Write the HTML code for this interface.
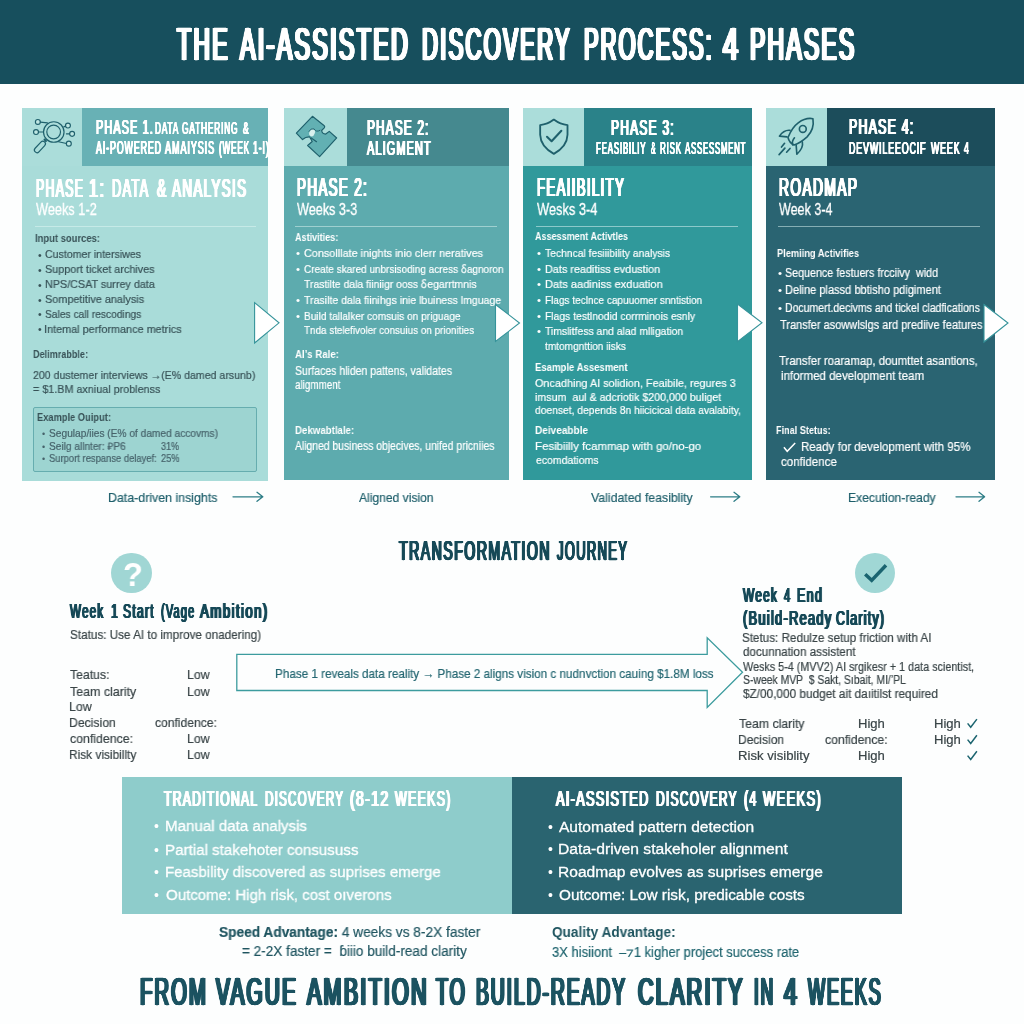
<!DOCTYPE html><html lang="en"><head><meta charset="utf-8"><title>The AI-Assisted Discovery Process: 4 Phases</title><style>
*{margin:0;padding:0;box-sizing:border-box}
html,body{width:1024px;height:1024px;overflow:hidden;background:#fdfefe}
body{font-family:"Liberation Sans",sans-serif;position:relative}
.t{will-change:transform;position:absolute;white-space:pre;line-height:1;transform-origin:0 0;display:block}
.b{position:absolute}
svg{position:absolute;left:0;top:0;overflow:visible}
</style></head><body>
<div class="b" style="left:0;top:0;width:1024px;height:84px;background:#174f5d"></div>
<!-- card 1 -->
<div class="b" style="left:22px;top:108px;width:246px;height:373px;background:#a9dcd9"></div>
<div class="b" style="left:22px;top:108px;width:60px;height:58px;background:#abddda"></div>
<div class="b" style="left:82px;top:108px;width:186px;height:58px;background:#68b1b5"></div>
<div class="b" style="left:34.6px;top:225.5px;width:221px;height:1px;background:#c6eae7"></div>
<div class="b" style="left:33px;top:407px;width:224px;height:65px;background:#9dd4d1;border:1px solid #66adaf;border-radius:2px"></div>
<!-- card 2 -->
<div class="b" style="left:284px;top:108px;width:225px;height:372px;background:#5dabae"></div>
<div class="b" style="left:284px;top:108px;width:63px;height:58px;background:#abddda"></div>
<div class="b" style="left:347px;top:108px;width:162px;height:58px;background:#45898f"></div>
<div class="b" style="left:295px;top:225.6px;width:202px;height:1px;background:#9fd0d0"></div>
<!-- card 3 -->
<div class="b" style="left:523px;top:108px;width:229px;height:372px;background:#30999b"></div>
<div class="b" style="left:523px;top:108px;width:61px;height:58px;background:#abddda"></div>
<div class="b" style="left:584px;top:108px;width:168px;height:58px;background:#2a8289"></div>
<div class="b" style="left:536px;top:225.6px;width:202px;height:1px;background:#8cc9ca"></div>
<!-- card 4 -->
<div class="b" style="left:766px;top:108px;width:229px;height:372px;background:#2a6472"></div>
<div class="b" style="left:766px;top:108px;width:61px;height:58px;background:#abddda"></div>
<div class="b" style="left:827px;top:108px;width:168px;height:58px;background:#1c4d5b"></div>
<div class="b" style="left:778px;top:225.6px;width:201.5px;height:1px;background:#86aeb4"></div>
<!-- bottom panels -->
<div class="b" style="left:122.3px;top:777.3px;width:389.7px;height:136.8px;background:#8ecccb"></div>
<div class="b" style="left:512px;top:777.3px;width:389.6px;height:136.8px;background:#2a6470"></div>
<!-- circles -->
<div class="b" style="left:111.4px;top:552.9px;width:40.5px;height:40.5px;border-radius:50%;background:#a0d6d4"></div>
<div class="b" style="left:855.2px;top:552.9px;width:40.2px;height:40.4px;border-radius:50%;background:#a0d7d5"></div>
<svg width="1024" height="1024" viewBox="0 0 1024 1024" fill="none" stroke-linecap="round" stroke-linejoin="round">
  <!-- triangles between cards -->
  <g fill="#fff" stroke="#35939a" stroke-width="1.1" stroke-linejoin="miter">
    <path d="M254.6 302.6 L279 322.8 L254.6 343 Z"/>
    <path d="M495.5 304.5 L519.5 323 L495.5 341.5 Z"/>
    <path d="M737.5 304 L762 322.8 L737.5 341.6 Z"/>
    <path d="M984 304.5 L1008 323 L984 342 Z"/>
  </g>
  <!-- label arrows -->
  <g stroke="#2d7d86" stroke-width="1.3">
    <path d="M233 496.8 H262.5 M257 492.3 L262.8 496.8 L257 501.3"/>
    <path d="M710.6 496.8 H739.5 M734 492.3 L739.8 496.8 L734 501.3"/>
    <path d="M956 496.8 H984.3 M979 492.3 L984.6 496.8 L979 501.3"/>
  </g>
  <!-- big arrow -->
  <path d="M236.8 654.4 H707.2 V637.8 L742.5 672.2 L707.2 707.5 V690.5 H236.8 Z" stroke="#3c9c9e" stroke-width="1.3" fill="#fdfefe" stroke-linejoin="miter"/>
  <!-- check in circle -->
  <path d="M865.2 574.3 L871.7 580.4 L886 565.2" stroke="#1a6470" stroke-width="3.5" stroke-linecap="butt" stroke-linejoin="miter"/>
  <path d="M783.9 447.3 L787.2 451.3 L795.2 442.9" stroke="#fff" stroke-width="1.5" stroke-linecap="butt" stroke-linejoin="miter"/>
  <!-- table checks -->
  <g stroke="#1d6570" stroke-width="1.5" stroke-linecap="butt" stroke-linejoin="miter">
    <path d="M967.6 723.4 L970.7 727.3 L976.9 719.1"/>
    <path d="M967.6 739.6 L970.7 743.5 L976.9 735.3"/>
    <path d="M967.6 755.6 L970.7 759.5 L976.9 751.3"/>
  </g>

  <g transform="translate(22,104) scale(0.06836)" stroke="#1f606c" stroke-width="17" fill="none">
    <circle cx="465" cy="410" r="150"/>
    <circle cx="463" cy="410" r="100"/>
    <rect x="-38" y="-100" width="76" height="200" rx="38" transform="translate(262,628) rotate(43)"/>
    <path d="M330 520 L350 540" stroke-width="30"/>
    <g fill="#bfe7e3"><circle cx="232" cy="263" r="36"/><circle cx="205" cy="410" r="36"/>
    <circle cx="672" cy="315" r="36"/><circle cx="733" cy="437" r="36"/><circle cx="685" cy="580" r="36"/></g>
    <path d="M268 265 L372 277 M241 410 L315 410 M612 335 L640 322 M650 437 L697 437 M535 553 L650 578"/>
  </g>
  <g transform="translate(282,104) scale(0.06836)" stroke="#1f606c" stroke-width="17" stroke-linejoin="round">
    <path d="M445 180 L618 318 Q632 333 618 350 L580 388 Q585 440 640 440 L692 400 L800 497 L550 770 L375 607 L442 548 L405 482 Q350 478 300 520 L210 425 Z" fill="#62b0b3"/>
    <ellipse cx="440" cy="420" rx="40" ry="55" transform="rotate(18 440 420)" fill="#d8f0ee" stroke="none"/>
    <path d="M428 497 L505 552" fill="none"/>
    <path d="M395 400 Q420 350 470 365 Q500 420 555 385" fill="none" stroke-width="14"/>
  </g>
  <g transform="translate(520,104) scale(0.06836)" stroke="#1f606c" stroke-width="27" fill="none">
    <path d="M495 228 Q400 300 295 308 L295 450 Q300 620 495 730 Q690 620 695 450 L695 308 Q590 300 495 228 Z"/>
    <path d="M395 480 L462 545 L605 392" stroke-width="30"/>
  </g>
  <g transform="translate(762,104) scale(0.06836)" stroke="#1f606c" stroke-width="24" fill="none">
    <path d="M745 215 Q640 195 530 275 Q440 340 380 490 Q400 570 470 600 Q560 570 660 480 Q770 370 745 215 Z"/>
    <circle cx="597" cy="365" r="50"/>
    <path d="M410 385 Q320 375 255 470 L365 480"/>
    <path d="M590 555 Q610 640 510 735 L500 605"/>
    <path d="M475 495 Q430 550 450 600"/>
    <path d="M330 575 L285 630 M335 645 L250 740 M410 650 L360 705"/>
  </g>

</svg>

<header aria-label="Title">
<span class="t" style="left:176.8px;top:22.1px;font-size:45.3px;color:#ffffff;-webkit-text-stroke:0.41px #ffffff;letter-spacing:4.56px;text-shadow:0.57px 0 #ffffff,-0.57px 0 #ffffff,1.14px 0 #ffffff,-1.14px 0 #ffffff,1.71px 0 #ffffff,-1.71px 0 #ffffff,2.28px 0 #ffffff,-2.28px 0 #ffffff,2.85px 0 #ffffff,-2.85px 0 #ffffff;transform:scaleX(0.507);">THE</span>
<span class="t" style="left:239.5px;top:22.1px;font-size:45.3px;color:#ffffff;-webkit-text-stroke:0.41px #ffffff;letter-spacing:4.56px;text-shadow:0.57px 0 #ffffff,-0.57px 0 #ffffff,1.14px 0 #ffffff,-1.14px 0 #ffffff,1.71px 0 #ffffff,-1.71px 0 #ffffff,2.28px 0 #ffffff,-2.28px 0 #ffffff,2.85px 0 #ffffff,-2.85px 0 #ffffff;transform:scaleX(0.512);">AI-ASSISTED</span>
<span class="t" style="left:422.4px;top:22.1px;font-size:45.3px;color:#ffffff;-webkit-text-stroke:0.41px #ffffff;letter-spacing:4.56px;text-shadow:0.57px 0 #ffffff,-0.57px 0 #ffffff,1.14px 0 #ffffff,-1.14px 0 #ffffff,1.71px 0 #ffffff,-1.71px 0 #ffffff,2.28px 0 #ffffff,-2.28px 0 #ffffff,2.85px 0 #ffffff,-2.85px 0 #ffffff;transform:scaleX(0.488);">DISCOVERY</span>
<span class="t" style="left:583.7px;top:22.1px;font-size:45.3px;color:#ffffff;-webkit-text-stroke:0.41px #ffffff;letter-spacing:4.56px;text-shadow:0.57px 0 #ffffff,-0.57px 0 #ffffff,1.14px 0 #ffffff,-1.14px 0 #ffffff,1.71px 0 #ffffff,-1.71px 0 #ffffff,2.28px 0 #ffffff,-2.28px 0 #ffffff,2.85px 0 #ffffff,-2.85px 0 #ffffff;transform:scaleX(0.480);">PROCESS:</span>
<span class="t" style="left:723.0px;top:22.1px;font-size:45.3px;color:#ffffff;-webkit-text-stroke:0.41px #ffffff;letter-spacing:4.56px;text-shadow:0.57px 0 #ffffff,-0.57px 0 #ffffff,1.14px 0 #ffffff,-1.14px 0 #ffffff,1.71px 0 #ffffff,-1.71px 0 #ffffff,2.28px 0 #ffffff,-2.28px 0 #ffffff,2.85px 0 #ffffff,-2.85px 0 #ffffff;transform:scaleX(0.596);">4</span>
<span class="t" style="left:750.3px;top:22.1px;font-size:45.3px;color:#ffffff;-webkit-text-stroke:0.41px #ffffff;letter-spacing:4.56px;text-shadow:0.57px 0 #ffffff,-0.57px 0 #ffffff,1.14px 0 #ffffff,-1.14px 0 #ffffff,1.71px 0 #ffffff,-1.71px 0 #ffffff,2.28px 0 #ffffff,-2.28px 0 #ffffff,2.85px 0 #ffffff,-2.85px 0 #ffffff;transform:scaleX(0.504);">PHASES</span>
</header>
<section aria-label="Phase 1">
<span class="t" style="left:95.9px;top:116.7px;font-size:20.8px;color:#ffffff;-webkit-text-stroke:0.19px #ffffff;letter-spacing:2.1px;text-shadow:0.66px 0 #ffffff,-0.66px 0 #ffffff,1.31px 0 #ffffff,-1.31px 0 #ffffff;transform:scaleX(0.524);">PHASE 1.</span>
<span class="t" style="left:155.3px;top:119.7px;font-size:16.4px;color:#ffffff;-webkit-text-stroke:0.15px #ffffff;letter-spacing:1.65px;text-shadow:0.52px 0 #ffffff,-0.52px 0 #ffffff,1.03px 0 #ffffff,-1.03px 0 #ffffff;transform:scaleX(0.503);">DATA</span>
<span class="t" style="left:182.3px;top:119.7px;font-size:16.4px;color:#ffffff;-webkit-text-stroke:0.15px #ffffff;letter-spacing:1.65px;text-shadow:0.52px 0 #ffffff,-0.52px 0 #ffffff,1.03px 0 #ffffff,-1.03px 0 #ffffff;transform:scaleX(0.507);">GATHERING</span>
<span class="t" style="left:242.5px;top:119.7px;font-size:16.4px;color:#ffffff;-webkit-text-stroke:0.15px #ffffff;letter-spacing:1.65px;text-shadow:0.52px 0 #ffffff,-0.52px 0 #ffffff,1.03px 0 #ffffff,-1.03px 0 #ffffff;transform:scaleX(0.521);">&amp;</span>
<span class="t" style="left:96.3px;top:138.7px;font-size:18.3px;color:#ffffff;-webkit-text-stroke:0.16px #ffffff;letter-spacing:1.84px;text-shadow:0.57px 0 #ffffff,-0.57px 0 #ffffff,1.15px 0 #ffffff,-1.15px 0 #ffffff;transform:scaleX(0.484);">AI-POWERED</span>
<span class="t" style="left:165.1px;top:138.7px;font-size:18.3px;color:#ffffff;-webkit-text-stroke:0.16px #ffffff;letter-spacing:1.84px;text-shadow:0.57px 0 #ffffff,-0.57px 0 #ffffff,1.15px 0 #ffffff,-1.15px 0 #ffffff;transform:scaleX(0.495);">AMAIYSIS</span>
<span class="t" style="left:218.9px;top:138.7px;font-size:18.3px;color:#ffffff;-webkit-text-stroke:0.16px #ffffff;letter-spacing:1.84px;text-shadow:0.57px 0 #ffffff,-0.57px 0 #ffffff,1.15px 0 #ffffff,-1.15px 0 #ffffff;transform:scaleX(0.447);">(WEEK</span>
<span class="t" style="left:253.1px;top:138.7px;font-size:18.3px;color:#ffffff;-webkit-text-stroke:0.16px #ffffff;letter-spacing:1.84px;text-shadow:0.57px 0 #ffffff,-0.57px 0 #ffffff,1.15px 0 #ffffff,-1.15px 0 #ffffff;transform:scaleX(0.477);">1-I)</span>
<span class="t" style="left:36.1px;top:175.6px;font-size:25.2px;color:#ffffff;-webkit-text-stroke:0.23px #ffffff;letter-spacing:2.54px;text-shadow:0.53px 0 #ffffff,-0.53px 0 #ffffff,1.06px 0 #ffffff,-1.06px 0 #ffffff,1.59px 0 #ffffff,-1.59px 0 #ffffff;transform:scaleX(0.491);">PHASE</span>
<span class="t" style="left:89.3px;top:175.6px;font-size:25.2px;color:#ffffff;-webkit-text-stroke:0.23px #ffffff;letter-spacing:2.54px;text-shadow:0.53px 0 #ffffff,-0.53px 0 #ffffff,1.06px 0 #ffffff,-1.06px 0 #ffffff,1.59px 0 #ffffff,-1.59px 0 #ffffff;transform:scaleX(0.632);">1:</span>
<span class="t" style="left:111.9px;top:175.6px;font-size:25.2px;color:#ffffff;-webkit-text-stroke:0.23px #ffffff;letter-spacing:2.54px;text-shadow:0.53px 0 #ffffff,-0.53px 0 #ffffff,1.06px 0 #ffffff,-1.06px 0 #ffffff,1.59px 0 #ffffff,-1.59px 0 #ffffff;transform:scaleX(0.509);">DATA</span>
<span class="t" style="left:156.8px;top:175.6px;font-size:25.2px;color:#ffffff;-webkit-text-stroke:0.23px #ffffff;letter-spacing:2.54px;text-shadow:0.53px 0 #ffffff,-0.53px 0 #ffffff,1.06px 0 #ffffff,-1.06px 0 #ffffff,1.59px 0 #ffffff,-1.59px 0 #ffffff;transform:scaleX(0.540);">&amp;</span>
<span class="t" style="left:171.7px;top:175.6px;font-size:25.2px;color:#ffffff;-webkit-text-stroke:0.23px #ffffff;letter-spacing:2.54px;text-shadow:0.53px 0 #ffffff,-0.53px 0 #ffffff,1.06px 0 #ffffff,-1.06px 0 #ffffff,1.59px 0 #ffffff,-1.59px 0 #ffffff;transform:scaleX(0.532);">ANALYSIS</span>
<span class="t" style="left:35.8px;top:200.5px;font-size:16.4px;color:#ffffff;-webkit-text-stroke:0.3px #ffffff;transform:scaleX(0.778);">Weeks 1-2</span>
<span class="t" style="left:34.6px;top:233.2px;font-size:11px;color:#385257;font-weight:700;transform:scaleX(0.857);">Input sources:</span>
<span class="t" style="left:37.6px;top:250.0px;font-size:10.5px;color:#385257;">•</span>
<span class="t" style="left:45.4px;top:249.2px;font-size:11.4px;color:#385257;-webkit-text-stroke:0.2px #385257;transform:scaleX(0.930);">Customer intersiwes</span>
<span class="t" style="left:37.6px;top:264.9px;font-size:10.5px;color:#385257;">•</span>
<span class="t" style="left:45.4px;top:264.1px;font-size:11.4px;color:#385257;-webkit-text-stroke:0.2px #385257;transform:scaleX(0.951);">Support ticket archives</span>
<span class="t" style="left:37.6px;top:279.7px;font-size:10.5px;color:#385257;">•</span>
<span class="t" style="left:45.4px;top:278.9px;font-size:11.4px;color:#385257;-webkit-text-stroke:0.2px #385257;transform:scaleX(0.946);">NPS/CSAT surrey data</span>
<span class="t" style="left:37.6px;top:294.6px;font-size:10.5px;color:#385257;">•</span>
<span class="t" style="left:45.4px;top:293.8px;font-size:11.4px;color:#385257;-webkit-text-stroke:0.2px #385257;transform:scaleX(0.954);">Sompetitive analysis</span>
<span class="t" style="left:37.6px;top:309.4px;font-size:10.5px;color:#385257;">•</span>
<span class="t" style="left:45.4px;top:308.6px;font-size:11.4px;color:#385257;-webkit-text-stroke:0.2px #385257;transform:scaleX(0.900);">Sales call rescodings</span>
<span class="t" style="left:37.6px;top:324.3px;font-size:10.5px;color:#385257;">•</span>
<span class="t" style="left:44.4px;top:323.5px;font-size:11.4px;color:#385257;-webkit-text-stroke:0.2px #385257;transform:scaleX(0.953);">Intemal performance metrics</span>
<span class="t" style="left:33.0px;top:349.2px;font-size:11px;color:#385257;font-weight:700;transform:scaleX(0.826);">Delimrabble:</span>
<span class="t" style="left:33.0px;top:369.6px;font-size:11.8px;color:#385257;-webkit-text-stroke:0.2px #385257;transform:scaleX(0.897);">200 dustemer interviews →(E% damed arsunb)</span>
<span class="t" style="left:33.0px;top:384.3px;font-size:11.8px;color:#385257;-webkit-text-stroke:0.2px #385257;transform:scaleX(0.914);">= $1.BM axniual problenss</span>
<span class="t" style="left:36.5px;top:411.6px;font-size:10.5px;color:#385257;font-weight:700;transform:scaleX(0.886);">Example Ouiput:</span>
<span class="t" style="left:42.4px;top:430.0px;font-size:9px;color:#46626a;">•</span>
<span class="t" style="left:49.0px;top:429.0px;font-size:10.2px;color:#46626a;-webkit-text-stroke:0.2px #46626a;transform:scaleX(0.998);">Segulap/iies (E% of damed accovms)</span>
<span class="t" style="left:42.4px;top:443.0px;font-size:9px;color:#46626a;">•</span>
<span class="t" style="left:49.0px;top:442.0px;font-size:10.2px;color:#46626a;-webkit-text-stroke:0.2px #46626a;transform:scaleX(0.991);">Seilg allnter: ₽P6</span>
<span class="t" style="left:42.4px;top:455.2px;font-size:9px;color:#46626a;">•</span>
<span class="t" style="left:49.0px;top:454.2px;font-size:10.2px;color:#46626a;-webkit-text-stroke:0.2px #46626a;transform:scaleX(0.924);">Surport respanse delayef:</span>
<span class="t" style="left:160.5px;top:442.0px;font-size:10.2px;color:#46626a;-webkit-text-stroke:0.2px #46626a;transform:scaleX(0.885);">31%</span>
<span class="t" style="left:160.5px;top:454.2px;font-size:10.2px;color:#46626a;-webkit-text-stroke:0.2px #46626a;transform:scaleX(0.910);">25%</span>
<span class="t" style="left:108.0px;top:491.9px;font-size:12.8px;color:#1e5f6b;-webkit-text-stroke:0.2px #1e5f6b;transform:scaleX(0.967);">Data-driven insights</span>
</section>
<section aria-label="Phase 2">
<span class="t" style="left:366.6px;top:116.7px;font-size:21.2px;color:#ffffff;-webkit-text-stroke:0.19px #ffffff;letter-spacing:2.14px;text-shadow:0.67px 0 #ffffff,-0.67px 0 #ffffff,1.34px 0 #ffffff,-1.34px 0 #ffffff;transform:scaleX(0.556);">PHASE 2:</span>
<span class="t" style="left:367.1px;top:137.8px;font-size:20.7px;color:#ffffff;-webkit-text-stroke:0.19px #ffffff;letter-spacing:2.08px;text-shadow:0.65px 0 #ffffff,-0.65px 0 #ffffff,1.30px 0 #ffffff,-1.30px 0 #ffffff;transform:scaleX(0.529);">ALIGMENT</span>
<span class="t" style="left:296.5px;top:175.4px;font-size:25.2px;color:#ffffff;-webkit-text-stroke:0.23px #ffffff;letter-spacing:2.54px;text-shadow:0.53px 0 #ffffff,-0.53px 0 #ffffff,1.06px 0 #ffffff,-1.06px 0 #ffffff,1.59px 0 #ffffff,-1.59px 0 #ffffff;transform:scaleX(0.532);">PHASE 2:</span>
<span class="t" style="left:296.7px;top:200.5px;font-size:16.4px;color:#ffffff;-webkit-text-stroke:0.3px #ffffff;transform:scaleX(0.771);">Weeks 3-3</span>
<span class="t" style="left:294.6px;top:231.5px;font-size:10.5px;color:#ffffff;font-weight:700;transform:scaleX(0.863);">Astivities:</span>
<span class="t" style="left:296.2px;top:247.7px;font-size:11.5px;color:#ffffff;">•</span>
<span class="t" style="left:303.8px;top:247.7px;font-size:11.5px;color:#ffffff;-webkit-text-stroke:0.2px #ffffff;transform:scaleX(0.943);">Consolllate inights inio clerr neratives</span>
<span class="t" style="left:296.2px;top:263.5px;font-size:11.5px;color:#ffffff;">•</span>
<span class="t" style="left:303.8px;top:263.5px;font-size:11.5px;color:#ffffff;-webkit-text-stroke:0.2px #ffffff;transform:scaleX(0.867);">Create skared unbrsisoding acress ẟagnoron</span>
<span class="t" style="left:303.8px;top:279.0px;font-size:11.5px;color:#ffffff;-webkit-text-stroke:0.2px #ffffff;transform:scaleX(0.905);">Trastilte dala fiiniigr ooss ẟegarrtmnis</span>
<span class="t" style="left:296.2px;top:294.7px;font-size:11.5px;color:#ffffff;">•</span>
<span class="t" style="left:303.8px;top:294.7px;font-size:11.5px;color:#ffffff;-webkit-text-stroke:0.2px #ffffff;transform:scaleX(0.917);">Trasilte dala fiinihgs inie lbuiness lmguage</span>
<span class="t" style="left:296.2px;top:310.5px;font-size:11.5px;color:#ffffff;">•</span>
<span class="t" style="left:303.8px;top:310.5px;font-size:11.5px;color:#ffffff;-webkit-text-stroke:0.2px #ffffff;transform:scaleX(0.881);">Build tallalker comsuis on priguage</span>
<span class="t" style="left:303.8px;top:325.1px;font-size:11.5px;color:#ffffff;-webkit-text-stroke:0.2px #ffffff;transform:scaleX(0.858);">Tnda stelefivoler consuius on prionities</span>
<span class="t" style="left:294.6px;top:348.8px;font-size:10.8px;color:#ffffff;font-weight:700;transform:scaleX(0.900);">AI’s Rale:</span>
<span class="t" style="left:294.6px;top:365.0px;font-size:12px;color:#ffffff;-webkit-text-stroke:0.2px #ffffff;transform:scaleX(0.875);">Surfaces hliden pattens, validates</span>
<span class="t" style="left:294.6px;top:378.7px;font-size:12px;color:#ffffff;-webkit-text-stroke:0.2px #ffffff;transform:scaleX(0.821);">aligmment</span>
<span class="t" style="left:294.6px;top:425.2px;font-size:10.5px;color:#ffffff;font-weight:700;transform:scaleX(0.922);">Dekwabtlale:</span>
<span class="t" style="left:294.6px;top:439.7px;font-size:12px;color:#ffffff;-webkit-text-stroke:0.2px #ffffff;transform:scaleX(0.864);">Aligned business objecives, unifed pricniies</span>
<span class="t" style="left:359.4px;top:491.9px;font-size:12.8px;color:#1e5f6b;-webkit-text-stroke:0.2px #1e5f6b;transform:scaleX(0.944);">Aligned vision</span>
</section>
<section aria-label="Phase 3">
<span class="t" style="left:611.3px;top:116.6px;font-size:21.2px;color:#ffffff;-webkit-text-stroke:0.19px #ffffff;letter-spacing:2.14px;text-shadow:0.67px 0 #ffffff,-0.67px 0 #ffffff,1.34px 0 #ffffff,-1.34px 0 #ffffff;transform:scaleX(0.567);">PHASE 3:</span>
<span class="t" style="left:595.5px;top:140.0px;font-size:16.5px;color:#ffffff;-webkit-text-stroke:0.15px #ffffff;letter-spacing:1.66px;text-shadow:0.52px 0 #ffffff,-0.52px 0 #ffffff,1.04px 0 #ffffff,-1.04px 0 #ffffff;transform:scaleX(0.481);">FEASIBILIY</span>
<span class="t" style="left:650.6px;top:140.0px;font-size:16.5px;color:#ffffff;-webkit-text-stroke:0.15px #ffffff;letter-spacing:1.66px;text-shadow:0.52px 0 #ffffff,-0.52px 0 #ffffff,1.04px 0 #ffffff,-1.04px 0 #ffffff;transform:scaleX(0.413);">&amp;</span>
<span class="t" style="left:659.5px;top:140.0px;font-size:16.5px;color:#ffffff;-webkit-text-stroke:0.15px #ffffff;letter-spacing:1.66px;text-shadow:0.52px 0 #ffffff,-0.52px 0 #ffffff,1.04px 0 #ffffff,-1.04px 0 #ffffff;transform:scaleX(0.485);">RISK</span>
<span class="t" style="left:685.0px;top:140.0px;font-size:16.5px;color:#ffffff;-webkit-text-stroke:0.15px #ffffff;letter-spacing:1.66px;text-shadow:0.52px 0 #ffffff,-0.52px 0 #ffffff,1.04px 0 #ffffff,-1.04px 0 #ffffff;transform:scaleX(0.473);">ASSESSMENT</span>
<span class="t" style="left:536.5px;top:175.4px;font-size:25.2px;color:#ffffff;-webkit-text-stroke:0.23px #ffffff;letter-spacing:2.54px;text-shadow:0.53px 0 #ffffff,-0.53px 0 #ffffff,1.06px 0 #ffffff,-1.06px 0 #ffffff,1.59px 0 #ffffff,-1.59px 0 #ffffff;transform:scaleX(0.525);">FEAIIBILITY</span>
<span class="t" style="left:536.7px;top:200.5px;font-size:16.4px;color:#ffffff;-webkit-text-stroke:0.3px #ffffff;transform:scaleX(0.783);">Wesks 3-4</span>
<span class="t" style="left:535.0px;top:231.4px;font-size:10.5px;color:#ffffff;font-weight:700;transform:scaleX(0.860);">Assessment Activtles</span>
<span class="t" style="left:536.5px;top:247.8px;font-size:11.5px;color:#ffffff;">•</span>
<span class="t" style="left:545.2px;top:247.8px;font-size:11.5px;color:#ffffff;-webkit-text-stroke:0.2px #ffffff;transform:scaleX(0.898);">Techncal fesiiibility analysis</span>
<span class="t" style="left:536.5px;top:263.5px;font-size:11.5px;color:#ffffff;">•</span>
<span class="t" style="left:545.2px;top:263.5px;font-size:11.5px;color:#ffffff;-webkit-text-stroke:0.2px #ffffff;transform:scaleX(0.943);">Dats readitiss evdustion</span>
<span class="t" style="left:536.5px;top:279.3px;font-size:11.5px;color:#ffffff;">•</span>
<span class="t" style="left:545.2px;top:279.3px;font-size:11.5px;color:#ffffff;-webkit-text-stroke:0.2px #ffffff;transform:scaleX(0.964);">Dats aadiniss exduation</span>
<span class="t" style="left:536.5px;top:295.1px;font-size:11.5px;color:#ffffff;">•</span>
<span class="t" style="left:545.2px;top:295.1px;font-size:11.5px;color:#ffffff;-webkit-text-stroke:0.2px #ffffff;transform:scaleX(0.872);">Flags teclnce capuuomer snntistion</span>
<span class="t" style="left:536.5px;top:310.6px;font-size:11.5px;color:#ffffff;">•</span>
<span class="t" style="left:545.2px;top:310.6px;font-size:11.5px;color:#ffffff;-webkit-text-stroke:0.2px #ffffff;transform:scaleX(0.900);">Flags testlnodid corrminois esnly</span>
<span class="t" style="left:536.5px;top:326.1px;font-size:11.5px;color:#ffffff;">•</span>
<span class="t" style="left:545.2px;top:326.1px;font-size:11.5px;color:#ffffff;-webkit-text-stroke:0.2px #ffffff;transform:scaleX(0.903);">Timslitfess and alad mlligation</span>
<span class="t" style="left:545.2px;top:340.9px;font-size:11.5px;color:#ffffff;-webkit-text-stroke:0.2px #ffffff;transform:scaleX(0.879);">tmtomgnttion iisks</span>
<span class="t" style="left:534.6px;top:361.7px;font-size:10.5px;color:#ffffff;font-weight:700;transform:scaleX(0.910);">Esample Assesment</span>
<span class="t" style="left:535.0px;top:376.9px;font-size:11.7px;color:#ffffff;-webkit-text-stroke:0.2px #ffffff;transform:scaleX(0.928);">Oncadhing AI solidion, Feaibile, regures 3</span>
<span class="t" style="left:535.0px;top:390.8px;font-size:11.7px;color:#ffffff;-webkit-text-stroke:0.2px #ffffff;transform:scaleX(0.913);">imsum  aul &amp; adcriotik $200,000 buliget</span>
<span class="t" style="left:535.0px;top:404.3px;font-size:11.7px;color:#ffffff;-webkit-text-stroke:0.2px #ffffff;transform:scaleX(0.881);">doenset, depends 8n hiicicical data avalabity,</span>
<span class="t" style="left:535.0px;top:425.2px;font-size:10.5px;color:#ffffff;font-weight:700;transform:scaleX(0.957);">Deiveabble</span>
<span class="t" style="left:535.0px;top:440.4px;font-size:11.7px;color:#ffffff;-webkit-text-stroke:0.2px #ffffff;transform:scaleX(0.980);">Fesibiilly fcammap with go/no-go</span>
<span class="t" style="left:535.5px;top:454.3px;font-size:11.7px;color:#ffffff;-webkit-text-stroke:0.2px #ffffff;transform:scaleX(0.899);">ecomdatioms</span>
<span class="t" style="left:590.5px;top:491.9px;font-size:12.8px;color:#1e5f6b;-webkit-text-stroke:0.2px #1e5f6b;transform:scaleX(0.962);">Validated feasiblity</span>
</section>
<section aria-label="Phase 4">
<span class="t" style="left:848.8px;top:116.7px;font-size:21.4px;color:#ffffff;-webkit-text-stroke:0.19px #ffffff;letter-spacing:2.16px;text-shadow:0.68px 0 #ffffff,-0.68px 0 #ffffff,1.35px 0 #ffffff,-1.35px 0 #ffffff;transform:scaleX(0.577);">PHASE 4:</span>
<span class="t" style="left:848.6px;top:139.8px;font-size:17px;color:#ffffff;-webkit-text-stroke:0.15px #ffffff;letter-spacing:1.71px;text-shadow:0.54px 0 #ffffff,-0.54px 0 #ffffff,1.07px 0 #ffffff,-1.07px 0 #ffffff;transform:scaleX(0.520);">DEVWILEEOCIF</span>
<span class="t" style="left:930.9px;top:139.8px;font-size:17px;color:#ffffff;-webkit-text-stroke:0.15px #ffffff;letter-spacing:1.71px;text-shadow:0.54px 0 #ffffff,-0.54px 0 #ffffff,1.07px 0 #ffffff,-1.07px 0 #ffffff;transform:scaleX(0.517);">WEEK</span>
<span class="t" style="left:963.7px;top:139.8px;font-size:17px;color:#ffffff;-webkit-text-stroke:0.15px #ffffff;letter-spacing:1.71px;text-shadow:0.54px 0 #ffffff,-0.54px 0 #ffffff,1.07px 0 #ffffff,-1.07px 0 #ffffff;transform:scaleX(0.521);">4</span>
<span class="t" style="left:779.2px;top:175.4px;font-size:25.2px;color:#ffffff;-webkit-text-stroke:0.23px #ffffff;letter-spacing:2.54px;text-shadow:0.53px 0 #ffffff,-0.53px 0 #ffffff,1.06px 0 #ffffff,-1.06px 0 #ffffff,1.59px 0 #ffffff,-1.59px 0 #ffffff;transform:scaleX(0.547);">ROADMAP</span>
<span class="t" style="left:779.4px;top:200.5px;font-size:16.4px;color:#ffffff;-webkit-text-stroke:0.3px #ffffff;transform:scaleX(0.764);">Week 3-4</span>
<span class="t" style="left:777.0px;top:248.1px;font-size:10.5px;color:#ffffff;font-weight:700;transform:scaleX(0.882);">Plemiing Activifies</span>
<span class="t" style="left:777.5px;top:267.7px;font-size:11.5px;color:#ffffff;">•</span>
<span class="t" style="left:785.0px;top:267.2px;font-size:12px;color:#ffffff;-webkit-text-stroke:0.2px #ffffff;transform:scaleX(0.893);">Sequence festuers frcciivy  widd</span>
<span class="t" style="left:777.5px;top:284.7px;font-size:11.5px;color:#ffffff;">•</span>
<span class="t" style="left:785.0px;top:284.2px;font-size:12px;color:#ffffff;-webkit-text-stroke:0.2px #ffffff;transform:scaleX(0.920);">Deline plassd bbtisho pdigiment</span>
<span class="t" style="left:777.5px;top:302.5px;font-size:11.5px;color:#ffffff;">•</span>
<span class="t" style="left:785.0px;top:302.0px;font-size:12px;color:#ffffff;-webkit-text-stroke:0.2px #ffffff;transform:scaleX(0.875);">Documert.decivms and tickel cladfications</span>
<span class="t" style="left:780.0px;top:318.7px;font-size:12px;color:#ffffff;-webkit-text-stroke:0.2px #ffffff;transform:scaleX(0.916);">Transfer asowwlslgs ard prediive features</span>
<span class="t" style="left:778.6px;top:355.1px;font-size:12.3px;color:#ffffff;-webkit-text-stroke:0.2px #ffffff;transform:scaleX(0.922);">Transfer roaramap, doumttet asantions,</span>
<span class="t" style="left:780.7px;top:370.3px;font-size:12.3px;color:#ffffff;-webkit-text-stroke:0.2px #ffffff;transform:scaleX(0.939);">informed development team</span>
<span class="t" style="left:776.0px;top:425.2px;font-size:10.5px;color:#ffffff;font-weight:700;transform:scaleX(0.867);">Final Stetus:</span>
<span class="t" style="left:800.6px;top:440.7px;font-size:12.6px;color:#ffffff;-webkit-text-stroke:0.2px #ffffff;transform:scaleX(0.917);">Ready for development with 95%</span>
<span class="t" style="left:781.4px;top:455.9px;font-size:12.6px;color:#ffffff;-webkit-text-stroke:0.2px #ffffff;transform:scaleX(0.918);">confidence</span>
<span class="t" style="left:847.8px;top:491.9px;font-size:12.8px;color:#1e5f6b;-webkit-text-stroke:0.2px #1e5f6b;transform:scaleX(0.948);">Execution-ready</span>
</section>
<section aria-label="Transformation Journey">
<span class="t" style="left:399.4px;top:536.7px;font-size:27.3px;color:#174a58;-webkit-text-stroke:0.25px #174a58;letter-spacing:2.75px;text-shadow:0.57px 0 #174a58,-0.57px 0 #174a58,1.15px 0 #174a58,-1.15px 0 #174a58,1.72px 0 #174a58,-1.72px 0 #174a58;transform:scaleX(0.519);">TRANSFORMATION</span>
<span class="t" style="left:557.3px;top:536.7px;font-size:27.3px;color:#174a58;-webkit-text-stroke:0.25px #174a58;letter-spacing:2.75px;text-shadow:0.57px 0 #174a58,-0.57px 0 #174a58,1.15px 0 #174a58,-1.15px 0 #174a58,1.72px 0 #174a58,-1.72px 0 #174a58;transform:scaleX(0.476);">JOURNEY</span>
<span class="t" style="left:122.6px;top:556.8px;font-size:34px;color:#ffffff;font-weight:700;transform:scaleX(0.956);">?</span>
<span class="t" style="left:69.7px;top:600.9px;font-size:20.7px;color:#174a58;-webkit-text-stroke:0.19px #174a58;letter-spacing:2.08px;text-shadow:0.65px 0 #174a58,-0.65px 0 #174a58,1.30px 0 #174a58,-1.30px 0 #174a58;transform:scaleX(0.564);">Week</span>
<span class="t" style="left:110.7px;top:600.9px;font-size:20.7px;color:#174a58;-webkit-text-stroke:0.19px #174a58;letter-spacing:2.08px;text-shadow:0.65px 0 #174a58,-0.65px 0 #174a58,1.30px 0 #174a58,-1.30px 0 #174a58;transform:scaleX(0.595);">1</span>
<span class="t" style="left:123.1px;top:600.9px;font-size:20.7px;color:#174a58;-webkit-text-stroke:0.19px #174a58;letter-spacing:2.08px;text-shadow:0.65px 0 #174a58,-0.65px 0 #174a58,1.30px 0 #174a58,-1.30px 0 #174a58;transform:scaleX(0.587);">Start</span>
<span class="t" style="left:160.7px;top:600.9px;font-size:20.7px;color:#174a58;-webkit-text-stroke:0.19px #174a58;letter-spacing:2.08px;text-shadow:0.65px 0 #174a58,-0.65px 0 #174a58,1.30px 0 #174a58,-1.30px 0 #174a58;transform:scaleX(0.536);">(Vage</span>
<span class="t" style="left:200.4px;top:600.9px;font-size:20.7px;color:#174a58;-webkit-text-stroke:0.19px #174a58;letter-spacing:2.08px;text-shadow:0.65px 0 #174a58,-0.65px 0 #174a58,1.30px 0 #174a58,-1.30px 0 #174a58;transform:scaleX(0.647);">Ambition)</span>
<span class="t" style="left:70.0px;top:629.0px;font-size:12.6px;color:#394447;-webkit-text-stroke:0.2px #394447;transform:scaleX(0.929);">Status: Use AI to improve onadering)</span>
<span class="t" style="left:69.7px;top:668.3px;font-size:13px;color:#394447;-webkit-text-stroke:0.2px #394447;transform:scaleX(0.942);">Teatus:</span>
<span class="t" style="left:187.1px;top:668.3px;font-size:13px;color:#394447;-webkit-text-stroke:0.2px #394447;transform:scaleX(0.946);">Low</span>
<span class="t" style="left:69.7px;top:684.6px;font-size:13px;color:#394447;-webkit-text-stroke:0.2px #394447;transform:scaleX(0.956);">Team clarity</span>
<span class="t" style="left:187.1px;top:684.6px;font-size:13px;color:#394447;-webkit-text-stroke:0.2px #394447;transform:scaleX(0.946);">Low</span>
<span class="t" style="left:68.7px;top:700.0px;font-size:13px;color:#394447;-webkit-text-stroke:0.2px #394447;transform:scaleX(0.951);">Low</span>
<span class="t" style="left:68.8px;top:716.3px;font-size:13px;color:#394447;-webkit-text-stroke:0.2px #394447;transform:scaleX(0.940);">Decision</span>
<span class="t" style="left:154.8px;top:716.3px;font-size:13px;color:#394447;-webkit-text-stroke:0.2px #394447;transform:scaleX(0.929);">confidence:</span>
<span class="t" style="left:69.7px;top:732.3px;font-size:13px;color:#394447;-webkit-text-stroke:0.2px #394447;transform:scaleX(0.946);">confidence:</span>
<span class="t" style="left:187.1px;top:732.3px;font-size:13px;color:#394447;-webkit-text-stroke:0.2px #394447;transform:scaleX(0.946);">Low</span>
<span class="t" style="left:68.8px;top:748.3px;font-size:13px;color:#394447;-webkit-text-stroke:0.2px #394447;transform:scaleX(0.913);">Risk visibillty</span>
<span class="t" style="left:187.1px;top:748.3px;font-size:13px;color:#394447;-webkit-text-stroke:0.2px #394447;transform:scaleX(0.946);">Low</span>
<span class="t" style="left:274.8px;top:667.9px;font-size:12.6px;color:#236671;-webkit-text-stroke:0.2px #236671;transform:scaleX(0.928);">Phase 1 reveals data reality → Phase 2 aligns vision c nudnvction cauing $1.8M loss</span>
<span class="t" style="left:743.3px;top:584.7px;font-size:20.3px;color:#174a58;-webkit-text-stroke:0.18px #174a58;letter-spacing:2.05px;text-shadow:0.64px 0 #174a58,-0.64px 0 #174a58,1.28px 0 #174a58,-1.28px 0 #174a58;transform:scaleX(0.588);">Week</span>
<span class="t" style="left:783.8px;top:584.7px;font-size:20.3px;color:#174a58;-webkit-text-stroke:0.18px #174a58;letter-spacing:2.05px;text-shadow:0.64px 0 #174a58,-0.64px 0 #174a58,1.28px 0 #174a58,-1.28px 0 #174a58;transform:scaleX(0.553);">4</span>
<span class="t" style="left:796.5px;top:584.7px;font-size:20.3px;color:#174a58;-webkit-text-stroke:0.18px #174a58;letter-spacing:2.05px;text-shadow:0.64px 0 #174a58,-0.64px 0 #174a58,1.28px 0 #174a58,-1.28px 0 #174a58;transform:scaleX(0.618);">End</span>
<span class="t" style="left:742.7px;top:607.5px;font-size:20.3px;color:#174a58;-webkit-text-stroke:0.18px #174a58;letter-spacing:2.05px;text-shadow:0.64px 0 #174a58,-0.64px 0 #174a58,1.28px 0 #174a58,-1.28px 0 #174a58;transform:scaleX(0.631);">(Build-Ready</span>
<span class="t" style="left:835.5px;top:607.5px;font-size:20.3px;color:#174a58;-webkit-text-stroke:0.18px #174a58;letter-spacing:2.05px;text-shadow:0.64px 0 #174a58,-0.64px 0 #174a58,1.28px 0 #174a58,-1.28px 0 #174a58;transform:scaleX(0.611);">Clarity)</span>
<span class="t" style="left:741.6px;top:631.5px;font-size:12.3px;color:#394447;-webkit-text-stroke:0.2px #394447;transform:scaleX(0.949);">Stetus: Redulze setup friction with AI</span>
<span class="t" style="left:742.5px;top:645.6px;font-size:12.3px;color:#394447;-webkit-text-stroke:0.2px #394447;transform:scaleX(0.946);">docunnation assistent</span>
<span class="t" style="left:742.5px;top:660.9px;font-size:12.3px;color:#394447;-webkit-text-stroke:0.2px #394447;transform:scaleX(0.878);">Wesks 5-4 (MVV2) AI srgikesr + 1 data scientist,</span>
<span class="t" style="left:742.5px;top:674.3px;font-size:12.3px;color:#394447;-webkit-text-stroke:0.2px #394447;transform:scaleX(0.846);">S-week MVP  $ Sakt, Sıbait, MI/’PL</span>
<span class="t" style="left:742.5px;top:687.9px;font-size:12.3px;color:#394447;-webkit-text-stroke:0.2px #394447;transform:scaleX(0.960);">$Z/00,000 budget ait daıitilst required</span>
<span class="t" style="left:739.0px;top:716.9px;font-size:13px;color:#394447;-webkit-text-stroke:0.2px #394447;transform:scaleX(0.945);">Team clarity</span>
<span class="t" style="left:857.8px;top:716.9px;font-size:13px;color:#394447;-webkit-text-stroke:0.2px #394447;transform:scaleX(1.004);">High</span>
<span class="t" style="left:933.7px;top:716.9px;font-size:13px;color:#394447;-webkit-text-stroke:0.2px #394447;transform:scaleX(1.004);">High</span>
<span class="t" style="left:738.1px;top:733.0px;font-size:13px;color:#394447;-webkit-text-stroke:0.2px #394447;transform:scaleX(0.925);">Decision</span>
<span class="t" style="left:825.0px;top:733.0px;font-size:13px;color:#394447;-webkit-text-stroke:0.2px #394447;transform:scaleX(0.940);">confidence:</span>
<span class="t" style="left:933.7px;top:733.0px;font-size:13px;color:#394447;-webkit-text-stroke:0.2px #394447;transform:scaleX(1.004);">High</span>
<span class="t" style="left:738.0px;top:749.0px;font-size:13px;color:#394447;-webkit-text-stroke:0.2px #394447;transform:scaleX(1.010);">Risk visiblity</span>
<span class="t" style="left:857.8px;top:749.0px;font-size:13px;color:#394447;-webkit-text-stroke:0.2px #394447;transform:scaleX(1.004);">High</span>
</section>
<section aria-label="Comparison">
<span class="t" style="left:164.2px;top:786.5px;font-size:22.8px;color:#ffffff;-webkit-text-stroke:0.21px #ffffff;letter-spacing:2.3px;text-shadow:0.72px 0 #ffffff,-0.72px 0 #ffffff,1.44px 0 #ffffff,-1.44px 0 #ffffff;transform:scaleX(0.536);">TRADITIONAL</span>
<span class="t" style="left:265.2px;top:786.5px;font-size:22.8px;color:#ffffff;-webkit-text-stroke:0.21px #ffffff;letter-spacing:2.3px;text-shadow:0.72px 0 #ffffff,-0.72px 0 #ffffff,1.44px 0 #ffffff,-1.44px 0 #ffffff;transform:scaleX(0.512);">DISCOVERY</span>
<span class="t" style="left:350.3px;top:786.5px;font-size:22.8px;color:#ffffff;-webkit-text-stroke:0.21px #ffffff;letter-spacing:2.3px;text-shadow:0.72px 0 #ffffff,-0.72px 0 #ffffff,1.44px 0 #ffffff,-1.44px 0 #ffffff;transform:scaleX(0.611);">(8-12</span>
<span class="t" style="left:394.6px;top:786.5px;font-size:22.8px;color:#ffffff;-webkit-text-stroke:0.21px #ffffff;letter-spacing:2.3px;text-shadow:0.72px 0 #ffffff,-0.72px 0 #ffffff,1.44px 0 #ffffff,-1.44px 0 #ffffff;transform:scaleX(0.546);">WEEKS)</span>
<span class="t" style="left:153.8px;top:819.4px;font-size:14px;color:#ffffff;">•</span>
<span class="t" style="left:165.3px;top:818.3px;font-size:15.3px;color:#ffffff;-webkit-text-stroke:0.3px #ffffff;transform:scaleX(0.988);">Manual data analysis</span>
<span class="t" style="left:153.8px;top:842.7px;font-size:14px;color:#ffffff;">•</span>
<span class="t" style="left:165.3px;top:841.6px;font-size:15.3px;color:#ffffff;-webkit-text-stroke:0.3px #ffffff;transform:scaleX(0.989);">Partial stakehoter consususs</span>
<span class="t" style="left:153.8px;top:865.3px;font-size:14px;color:#ffffff;">•</span>
<span class="t" style="left:165.3px;top:864.2px;font-size:15.3px;color:#ffffff;-webkit-text-stroke:0.3px #ffffff;transform:scaleX(0.983);">Feasbility discovered as suprises emerge</span>
<span class="t" style="left:153.8px;top:888.0px;font-size:14px;color:#ffffff;">•</span>
<span class="t" style="left:166.3px;top:886.9px;font-size:15.3px;color:#ffffff;-webkit-text-stroke:0.3px #ffffff;transform:scaleX(0.983);">Outcome: High risk, cost oıverons</span>
<span class="t" style="left:555.6px;top:786.5px;font-size:22.8px;color:#ffffff;-webkit-text-stroke:0.21px #ffffff;letter-spacing:2.3px;text-shadow:0.72px 0 #ffffff,-0.72px 0 #ffffff,1.44px 0 #ffffff,-1.44px 0 #ffffff;transform:scaleX(0.560);">AI-ASSISTED</span>
<span class="t" style="left:655.7px;top:786.5px;font-size:22.8px;color:#ffffff;-webkit-text-stroke:0.21px #ffffff;letter-spacing:2.3px;text-shadow:0.72px 0 #ffffff,-0.72px 0 #ffffff,1.44px 0 #ffffff,-1.44px 0 #ffffff;transform:scaleX(0.529);">DISCOVERY</span>
<span class="t" style="left:743.7px;top:786.5px;font-size:22.8px;color:#ffffff;-webkit-text-stroke:0.21px #ffffff;letter-spacing:2.3px;text-shadow:0.72px 0 #ffffff,-0.72px 0 #ffffff,1.44px 0 #ffffff,-1.44px 0 #ffffff;transform:scaleX(0.545);">(4</span>
<span class="t" style="left:762.8px;top:786.5px;font-size:22.8px;color:#ffffff;-webkit-text-stroke:0.21px #ffffff;letter-spacing:2.3px;text-shadow:0.72px 0 #ffffff,-0.72px 0 #ffffff,1.44px 0 #ffffff,-1.44px 0 #ffffff;transform:scaleX(0.569);">WEEKS)</span>
<span class="t" style="left:547.8px;top:819.8px;font-size:14px;color:#ffffff;">•</span>
<span class="t" style="left:559.3px;top:818.7px;font-size:15.3px;color:#ffffff;-webkit-text-stroke:0.3px #ffffff;transform:scaleX(1.016);">Automated pattern detection</span>
<span class="t" style="left:547.8px;top:842.4px;font-size:14px;color:#ffffff;">•</span>
<span class="t" style="left:558.3px;top:841.3px;font-size:15.3px;color:#ffffff;-webkit-text-stroke:0.3px #ffffff;transform:scaleX(1.024);">Data-driven stakeholer alignment</span>
<span class="t" style="left:547.8px;top:865.0px;font-size:14px;color:#ffffff;">•</span>
<span class="t" style="left:558.3px;top:863.9px;font-size:15.3px;color:#ffffff;-webkit-text-stroke:0.3px #ffffff;transform:scaleX(1.018);">Roadmap evolves as suprises emerge</span>
<span class="t" style="left:547.8px;top:887.8px;font-size:14px;color:#ffffff;">•</span>
<span class="t" style="left:559.3px;top:886.7px;font-size:15.3px;color:#ffffff;-webkit-text-stroke:0.3px #ffffff;">Outcome: Low risk, predicable costs</span>
<span class="t" style="left:218.7px;top:925.0px;font-size:14.3px;color:#1f5560;-webkit-text-stroke:0.2px #1f5560;transform:scaleX(0.958);"><b>Speed Advantage:</b> 4 weeks vs 8-2X faster</span>
<span class="t" style="left:242.0px;top:944.1px;font-size:14px;color:#1f5560;-webkit-text-stroke:0.2px #1f5560;transform:scaleX(0.969);">= 2-2X faster =  ɓiiio build-read clarity</span>
<span class="t" style="left:552.0px;top:925.4px;font-size:14.3px;color:#1f5560;font-weight:700;transform:scaleX(0.953);">Quality Advantage:</span>
<span class="t" style="left:552.0px;top:944.6px;font-size:14px;color:#20656f;-webkit-text-stroke:0.2px #20656f;transform:scaleX(0.928);">3X hisiiont  –⁊1 kigher project success rate</span>
</section>
<footer aria-label="Summary">
<span class="t" style="left:139.7px;top:971.7px;font-size:39.2px;color:#1c5361;-webkit-text-stroke:0.35px #1c5361;letter-spacing:3.95px;text-shadow:0.62px 0 #1c5361,-0.62px 0 #1c5361,1.24px 0 #1c5361,-1.24px 0 #1c5361,1.85px 0 #1c5361,-1.85px 0 #1c5361,2.47px 0 #1c5361,-2.47px 0 #1c5361;transform:scaleX(0.518);">FROM</span>
<span class="t" style="left:215.8px;top:971.7px;font-size:39.2px;color:#1c5361;-webkit-text-stroke:0.35px #1c5361;letter-spacing:3.95px;text-shadow:0.62px 0 #1c5361,-0.62px 0 #1c5361,1.24px 0 #1c5361,-1.24px 0 #1c5361,1.85px 0 #1c5361,-1.85px 0 #1c5361,2.47px 0 #1c5361,-2.47px 0 #1c5361;transform:scaleX(0.532);">VAGUE</span>
<span class="t" style="left:306.6px;top:971.7px;font-size:39.2px;color:#1c5361;-webkit-text-stroke:0.35px #1c5361;letter-spacing:3.95px;text-shadow:0.62px 0 #1c5361,-0.62px 0 #1c5361,1.24px 0 #1c5361,-1.24px 0 #1c5361,1.85px 0 #1c5361,-1.85px 0 #1c5361,2.47px 0 #1c5361,-2.47px 0 #1c5361;transform:scaleX(0.551);">AMBITION</span>
<span class="t" style="left:435.8px;top:971.7px;font-size:39.2px;color:#1c5361;-webkit-text-stroke:0.35px #1c5361;letter-spacing:3.95px;text-shadow:0.62px 0 #1c5361,-0.62px 0 #1c5361,1.24px 0 #1c5361,-1.24px 0 #1c5361,1.85px 0 #1c5361,-1.85px 0 #1c5361,2.47px 0 #1c5361,-2.47px 0 #1c5361;transform:scaleX(0.499);">TO</span>
<span class="t" style="left:475.5px;top:971.7px;font-size:39.2px;color:#1c5361;-webkit-text-stroke:0.35px #1c5361;letter-spacing:3.95px;text-shadow:0.62px 0 #1c5361,-0.62px 0 #1c5361,1.24px 0 #1c5361,-1.24px 0 #1c5361,1.85px 0 #1c5361,-1.85px 0 #1c5361,2.47px 0 #1c5361,-2.47px 0 #1c5361;transform:scaleX(0.492);">BUILD-READY</span>
<span class="t" style="left:637.9px;top:971.7px;font-size:39.2px;color:#1c5361;-webkit-text-stroke:0.35px #1c5361;letter-spacing:3.95px;text-shadow:0.62px 0 #1c5361,-0.62px 0 #1c5361,1.24px 0 #1c5361,-1.24px 0 #1c5361,1.85px 0 #1c5361,-1.85px 0 #1c5361,2.47px 0 #1c5361,-2.47px 0 #1c5361;transform:scaleX(0.552);">CLARITY</span>
<span class="t" style="left:754.2px;top:971.7px;font-size:39.2px;color:#1c5361;-webkit-text-stroke:0.35px #1c5361;letter-spacing:3.95px;text-shadow:0.62px 0 #1c5361,-0.62px 0 #1c5361,1.24px 0 #1c5361,-1.24px 0 #1c5361,1.85px 0 #1c5361,-1.85px 0 #1c5361,2.47px 0 #1c5361,-2.47px 0 #1c5361;transform:scaleX(0.444);">IN</span>
<span class="t" style="left:784.0px;top:971.7px;font-size:39.2px;color:#1c5361;-webkit-text-stroke:0.35px #1c5361;letter-spacing:3.95px;text-shadow:0.62px 0 #1c5361,-0.62px 0 #1c5361,1.24px 0 #1c5361,-1.24px 0 #1c5361,1.85px 0 #1c5361,-1.85px 0 #1c5361,2.47px 0 #1c5361,-2.47px 0 #1c5361;transform:scaleX(0.586);">4</span>
<span class="t" style="left:807.7px;top:971.7px;font-size:39.2px;color:#1c5361;-webkit-text-stroke:0.35px #1c5361;letter-spacing:3.95px;text-shadow:0.62px 0 #1c5361,-0.62px 0 #1c5361,1.24px 0 #1c5361,-1.24px 0 #1c5361,1.85px 0 #1c5361,-1.85px 0 #1c5361,2.47px 0 #1c5361,-2.47px 0 #1c5361;transform:scaleX(0.462);">WEEKS</span>
</footer>
</body></html>
